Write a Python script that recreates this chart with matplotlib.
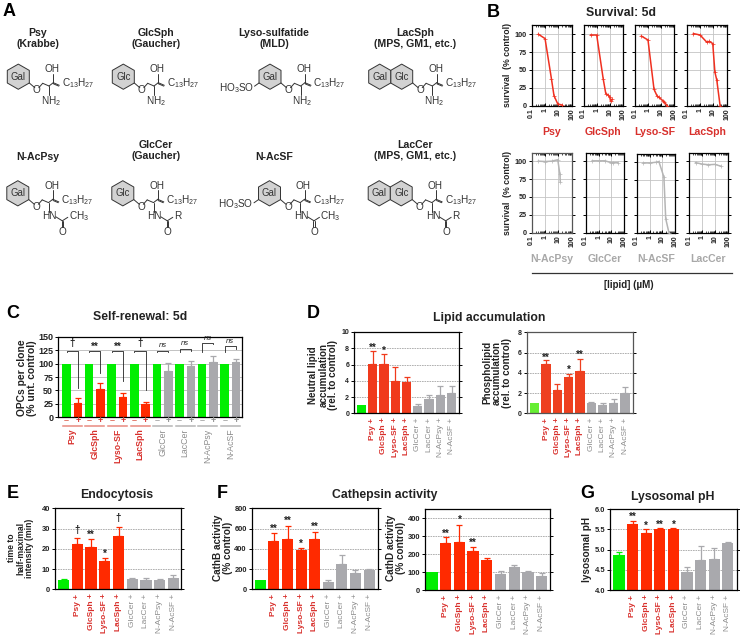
import matplotlib
matplotlib.use('Agg')
import matplotlib.pyplot as plt
from matplotlib.patches import Polygon
from matplotlib.ticker import LogLocator, NullFormatter

plt.rcParams['font.family'] = ['Liberation Sans', 'DejaVu Sans']
plt.rcParams['mathtext.fontset'] = 'custom'
plt.rcParams['mathtext.rm'] = 'Liberation Sans'

W, H = 740, 640

# panel A
row1_names = ['Psy\n(Krabbe)', 'GlcSph\n(Gaucher)', 'Lyso-sulfatide\n(MLD)', 'LacSph\n(MPS, GM1, etc.)']
row2_names = ['N-AcPsy', 'GlcCer\n(Gaucher)', 'N-AcSF', 'LacCer\n(MPS, GM1, etc.)']
sugars = [['Gal'], ['Glc'], ['Gal'], ['Gal', 'Glc']]
sulfated = [False, False, True, False]
row2_acyl = ['CH3', 'R', 'CH3', 'R']

# panel B
psy_x = [0.32, 1, 3, 4.7, 9, 18]
psy_y = [100, 94, 38, 14, 2.5, 1]
glcsph_x = [0.34, 1, 3.2, 5, 7.5, 10, 11.6, 15]
glcsph_y = [99, 99, 37, 17, 15, 12, 6.5, 9]
lysosf_x = [0.31, 1, 2.9, 4.9, 6.5, 14, 17, 30]
lysosf_y = [97.5, 92, 23, 14, 12, 7, 5.5, 0]
lacsph_x = [0.32, 1, 3.2, 5, 9, 13, 18, 32]
lacsph_y = [101, 99, 89, 90, 87, 47, 36, 0]
nacpsy_x = [0.32, 1, 3.2, 9, 13, 14]
nacpsy_y = [100, 99.5, 100, 102, 82, 71]
glccer_x = [0.32, 1, 3.2, 9, 14, 30]
glccer_y = [100.5, 100.5, 100.5, 98, 98, 98]
nacsf_x = [0.32, 1, 3.2, 5.3, 13, 18, 32]
nacsf_y = [99, 99, 100, 101, 79, 20, 0]
laccer_x = [0.32, 1, 3.2, 10, 30]
laccer_y = [98, 96, 95, 95.5, 93]

# panel C
c_names = ['Psy', 'GlcSph', 'Lyso-SF', 'LacSph', 'GlcCer', 'LacCer', 'N-AcPsy', 'N-AcSF']
c_ctrl = [100] * 8
c_vals = [27, 53, 38, 25, 87, 95, 102, 103]
c_tops = [35, 63, 46, 28, 101, 104, 114, 109]
c_br_top = [123, 123, 123, 123, 123, 128, 139, 133]
c_br_left = [121, 121, 121, 121, 121, 121, 121, 121]
c_br_right = [54, 82, 67, 51, 121, 124, 136, 128]
c_marks = ['†', '**', '**', '†', 'ns', 'ns', 'ns', 'ns']
c_mark_y = [138, 131, 131, 138, 133, 138, 146, 141]

# bar panels, first bar is the control
bar_names = ['', 'Psy +', 'GlcSph +', 'Lyso-SF +', 'LacSph +', 'GlcCer +', 'LacCer +', 'N-AcPsy +', 'N-AcSF +']
neutral_vals = [1, 6.1, 6.05, 4.0, 3.8, 0.9, 1.8, 2.2, 2.45]
neutral_tops = [1, 7.7, 7.25, 5.7, 4.5, 1.1, 2.25, 3.4, 3.35]
neutral_marks = {1: ('**', 8.0), 2: ('*', 7.7)}
phospho_vals = [1, 4.9, 2.35, 3.55, 4.2, 1.05, 0.85, 1.05, 2.05]
phospho_tops = [1, 5.25, 2.9, 3.85, 5.4, 1.15, 1.0, 1.45, 2.55]
phospho_marks = {1: ('**', 5.5), 3: ('*', 4.3), 4: ('**', 5.75)}
endo_vals = [4.7, 22.5, 21, 13.8, 26.5, 5.2, 4.5, 4.4, 5.7]
endo_tops = [5.2, 25.5, 25, 15.5, 31, 5.7, 5.4, 4.9, 7]
endo_marks = {1: ('†', 29.3), 2: ('**', 27), 3: ('*', 17.3), 4: ('†', 35)}
cathb_vals = [95, 480, 500, 390, 500, 75, 245, 165, 190]
cathb_tops = [95, 555, 625, 410, 570, 90, 335, 195, 205]
cathb_marks = {1: ('**', 600), 2: ('**', 675), 3: ('*', 450), 4: ('**', 615)}
cathd_vals = [100, 263, 268, 220, 168, 90, 130, 100, 82]
cathd_tops = [100, 297, 365, 238, 180, 110, 138, 110, 95]
cathd_marks = {1: ('**', 315), 2: ('*', 390), 3: ('**', 265)}
ph_vals = [4.87, 5.62, 5.4, 5.5, 5.5, 4.45, 4.75, 4.76, 5.17]
ph_tops = [4.93, 5.7, 5.5, 5.53, 5.53, 4.57, 5.08, 5.05, 5.19]
ph_marks = {1: ('**', 5.8), 2: ('*', 5.58), 3: ('**', 5.62), 4: ('*', 5.62)}

RED = '#ff2a00'
TXTRED = '#d8302c'
GREEN = '#00ee00'
GRAY = '#a9a9ad'
TXTGRAY = '#8c8c8c'
INK = '#333333'

fig = plt.figure(figsize=(W / 100, H / 100), dpi=100)


def place(x0, y0, x1, y1):
    return fig.add_axes([x0 / W, 1 - y1 / H, (x1 - x0) / W, (y1 - y0) / H])


page = fig.add_axes([0, 0, 1, 1])
page.set_xlim(0, W)
page.set_ylim(H, 0)
page.axis('off')


def bond(x0, y0, x1, y1):
    page.plot([x0, x1], [y0, y1], color=INK, lw=0.7, solid_capstyle='round')


def chem(x, y, s, ha='center'):
    page.text(x, y, s, ha=ha, va='center', fontsize=7.2, color=INK)


def structure(cx, cy, names, sulf=False, acyl=None):
    hw, r = 11.0, 12.6
    for k, nm in enumerate(reversed(names)):
        hx = cx - k * 2 * hw
        pts = [(hx, cy - r), (hx + hw, cy - r / 2), (hx + hw, cy + r / 2),
               (hx, cy + r), (hx - hw, cy + r / 2), (hx - hw, cy - r / 2)]
        page.add_patch(Polygon(pts, fc='#d2d2d2', ec=INK, lw=0.7))
        page.text(hx, cy, nm, ha='center', va='center', fontsize=6.9, color=INK)
    bond(cx + hw, cy + r / 2, cx + 16.5, cy + 11)
    chem(cx + 18.4, cy + 13.3, 'O')
    bond(cx + 20.5, cy + 11, cx + 24.4, cy + 6.6)
    bond(cx + 24.4, cy + 6.6, cx + 30.7, cy + 9.3)
    bond(cx + 30.7, cy + 9.3, cx + 35, cy + 6)
    bond(cx + 35, cy + 6, cx + 41, cy + 8.6)
    bond(cx + 35.3, cy + 7.2, cx + 40.5, cy + 9.4)
    chem(cx + 43.4, cy + 6.8, r'$\mathrm{C_{13}H_{27}}$', ha='left')
    bond(cx + 35, cy + 6, cx + 35, cy - 3)
    chem(cx + 34, cy - 7.4, 'OH')
    bond(cx + 30.7, cy + 9.3, cx + 30.7, cy + 18.5)
    if acyl is None:
        chem(cx + 32.4, cy + 24, r'$\mathrm{NH_2}$')
    else:
        chem(cx + 32, cy + 23, 'HN')
        bond(cx + 38, cy + 23.5, cx + 44.5, cy + 27.5)
        bond(cx + 44.5, cy + 27.5, cx + 50, cy + 24)
        bond(cx + 43.8, cy + 27.5, cx + 43.8, cy + 34)
        bond(cx + 45.2, cy + 27.5, cx + 45.2, cy + 34)
        chem(cx + 44.7, cy + 38.7, 'O')
        chem(cx + 51, cy + 23, r'$\mathrm{CH_3}$' if acyl == 'CH3' else 'R', ha='left')
    if sulf:
        bond(cx - hw, cy + r / 2, cx - 15.5, cy + 9.5)
        chem(cx - 16, cy + 11, r'$\mathrm{HO_3SO}$', ha='right')


# panel A
row_centers = [18.3, 123.3, 270, 401.7]
title_x = [38, 156, 274, 415]
for i in range(4):
    page.text(title_x[i], 38.5, row1_names[i], ha='center', va='center', fontsize=7.6,
              fontweight='bold', color='#222222', linespacing=1.1)
    structure(row_centers[i], 76.7, sugars[i], sulfated[i])
    if '\n' in row2_names[i]:
        page.text(title_x[i], 150.5, row2_names[i], ha='center', va='center', fontsize=7.6,
                  fontweight='bold', color='#222222', linespacing=1.1)
    else:
        page.text(title_x[i], 157, row2_names[i], ha='center', va='center', fontsize=7.6,
                  fontweight='bold', color='#222222')
    structure(row_centers[i] - 0.5, 193.3, sugars[i], sulfated[i], row2_acyl[i])


def survival(box, xs, ys, color, label, label_color, ylim_top=113, show_y=False, frame='black'):
    ax = place(*box)
    ax.plot(xs, ys, color=color, lw=1.1, marker='+', ms=2.5, mew=0.5, zorder=3)
    ax.set_xscale('log')
    ax.set_xlim(0.1, 100)
    ax.set_ylim(0, ylim_top)
    ax.set_yticks([0, 25, 50, 75, 100])
    ax.set_xticks([0.1, 1, 10, 100])
    ax.set_xticklabels(['0.1', '1', '10', '100'], rotation=90, fontsize=5, fontweight='bold', color='#222222')
    ax.xaxis.set_minor_locator(LogLocator(base=10, subs=range(2, 10), numticks=10))
    ax.xaxis.set_minor_formatter(NullFormatter())
    ax.tick_params(axis='x', which='major', top=True, direction='in', length=2.5, width=0.7, pad=2)
    ax.tick_params(axis='x', which='minor', top=True, direction='in', length=1.3, width=0.5)
    ax.tick_params(axis='y', left=True, right=True, direction='out', length=2, width=0.7, pad=1.5)
    ax.grid(True, which='major', color='#c4c4c4', lw=0.6, zorder=0)
    if show_y:
        ax.set_yticklabels(['0', '25', '50', '75', '100'], fontsize=5.2, fontweight='bold', color='#222222')
    else:
        ax.set_yticklabels([])
    for s in ax.spines.values():
        s.set_linewidth(0.9)
        s.set_color(frame)
    page.text((box[0] + box[2]) / 2, box[3] + 26.5, label, ha='center', va='center', fontsize=7.6,
              fontweight='bold', color=label_color)


# panel B
survival((531.7, 25, 571.7, 105.7), psy_x, psy_y, '#f03020', 'Psy', TXTRED, show_y=True)
survival((583.7, 25, 622.7, 105.7), glcsph_x, glcsph_y, '#f03020', 'GlcSph', TXTRED)
survival((635, 25, 674, 105.7), lysosf_x, lysosf_y, '#f03020', 'Lyso-SF', TXTRED)
survival((686.7, 25, 726.7, 105.7), lacsph_x, lacsph_y, '#f03020', 'LacSph', TXTRED)
survival((531.7, 153.3, 571.7, 232.7), nacpsy_x, nacpsy_y, '#b5b5b5', 'N-AcPsy', '#a8a8a8', ylim_top=111, show_y=True, frame='#555555')
survival((585.7, 153.3, 624.3, 232.7), glccer_x, glccer_y, '#b5b5b5', 'GlcCer', '#a8a8a8', ylim_top=111)
survival((636.7, 154.5, 675.3, 232.7), nacsf_x, nacsf_y, '#b5b5b5', 'N-AcSF', '#a8a8a8', ylim_top=111)
survival((689, 153.3, 727.7, 232.7), laccer_x, laccer_y, '#b5b5b5', 'LacCer', '#a8a8a8', ylim_top=111)
page.plot([532, 731.7], [272.7, 272.7], color='#333333', lw=0.9)
page.text(629, 285, '[lipid] (µM)', ha='center', va='center', fontsize=7, fontweight='bold', color='#222222')


def style_axes(ax, ticks, labels, fs, frame='black'):
    ax.set_yticks(ticks)
    ax.set_yticklabels(labels, fontsize=fs, fontweight='bold', color='#222222')
    ax.tick_params(axis='y', left=True, right=True, direction='out', length=2, width=0.7, pad=1.5)
    ax.yaxis.grid(True, color='#777777', lw=0.4, ls=(0, (3, 1.5)), zorder=0)
    ax.set_axisbelow(True)
    for s in ax.spines.values():
        s.set_linewidth(0.9)
        s.set_color(frame)


# panel C
axc = place(58, 336.7, 241.7, 417.3)
idx = list(range(8))
axc.bar([i - 0.25 for i in idx], c_ctrl, width=0.38, color=GREEN, zorder=2)
for i in idx:
    col = RED if i < 4 else GRAY
    axc.bar(i + 0.25, c_vals[i], width=0.38, color=col, zorder=2)
    axc.errorbar(i + 0.25, c_vals[i], yerr=[[0], [c_tops[i] - c_vals[i]]], color=col, lw=0.9, capsize=2.2,
                 capthick=0.9, zorder=2)
    axc.plot([i - 0.25, i - 0.25, i + 0.25, i + 0.25], [c_br_left[i], c_br_top[i], c_br_top[i], c_br_right[i]],
             color='#222222', lw=0.6, zorder=4)
    is_ns = c_marks[i] == 'ns'
    axc.text(i, c_mark_y[i], c_marks[i], ha='center', va='center', fontsize=5.5 if is_ns else 7,
             fontstyle='italic' if is_ns else 'normal', fontweight='normal' if is_ns else 'bold', color='#222222')
    text_col = TXTRED if i < 4 else TXTGRAY
    axc.plot([i - 0.42, i + 0.42], [-0.108, -0.108], transform=axc.get_xaxis_transform(), clip_on=False,
             color='#e88a80' if i < 4 else '#b5b5b5', lw=1.1)
    axc.text(i, -0.14, c_names[i], rotation=90, ha='center', va='top', transform=axc.get_xaxis_transform(),
             fontsize=6.3, fontweight='bold' if i < 4 else 'normal', color=text_col)
    axc.text(i - 0.25, -0.045, '–', ha='center', va='center', transform=axc.get_xaxis_transform(), fontsize=6.5,
             fontweight='bold', color='#e07060' if i < 4 else '#aaaaaa')
    axc.text(i + 0.25, -0.045, '+', ha='center', va='center', transform=axc.get_xaxis_transform(), fontsize=6.5,
             fontweight='bold', color=TXTRED if i < 4 else TXTGRAY)
axc.set_xlim(-0.63, 7.5)
axc.set_ylim(0, 150)
axc.set_xticks([])
style_axes(axc, [0, 25, 50, 75, 100, 125, 150], ['0', '25', '50', '75', '100', '125', '150'], 6.5)
axc.yaxis.grid(True, color='#aaaaaa', lw=0.5, ls='-')
axc.tick_params(axis='y', right=False)


def bar_panel(box, vals, tops, marks, ylim, ticks, labels, fs, period, first, red=RED, green=GREEN, frame='black'):
    ax = place(*box)
    for i in range(9):
        col = green if i == 0 else (red if i < 5 else GRAY)
        ax.bar(i, vals[i], width=0.82, bottom=0, color=col, zorder=2)
        if tops[i] > vals[i]:
            ax.errorbar(i, vals[i], yerr=[[0], [tops[i] - vals[i]]], color=col, lw=0.9, capsize=2.2, capthick=0.9,
                        zorder=2)
    for i, (m, y) in marks.items():
        ax.text(i, y, m, ha='center', va='center', fontsize=7, fontweight='bold', color='#222222')
    ax.set_xlim((box[0] - first) / period, (box[2] - first) / period)
    ax.set_ylim(*ylim)
    ax.set_xticks(range(1, 9))
    ax.set_xticklabels(bar_names[1:], rotation=90, fontsize=6)
    for i, t in enumerate(ax.get_xticklabels()):
        t.set_color(TXTRED if i < 4 else TXTGRAY)
        t.set_fontweight('bold' if i < 4 else 'normal')
    ax.tick_params(axis='x', length=0, pad=3)
    style_axes(ax, ticks, labels, fs, frame)
    return ax


# panels D to G
bar_panel((354, 332, 459, 413.3), neutral_vals, neutral_tops, neutral_marks, (0, 10), [0, 2, 4, 6, 8, 10],
          ['0', '2', '4', '6', '8', '10'], 5, 11.3, 361.3, red='#f03a1c')
bar_panel((526.7, 332.3, 632.7, 413.3), phospho_vals, phospho_tops, phospho_marks, (0, 8), [0, 2, 4, 6, 8],
          ['0', '2', '4', '6', '8'], 5, 11.3, 534.7, red='#ee4020', green='#66ee33', frame='#555555')
bar_panel((55, 508.3, 181, 589.3), endo_vals, endo_tops, endo_marks, (0, 40), [0, 10, 20, 30, 40],
          ['0', '10', '20', '30', '40'], 5.4, 13.7, 63.7)
bar_panel((251.7, 508.3, 378.3, 589.3), cathb_vals, cathb_tops, cathb_marks, (0, 800), [0, 200, 400, 600, 800],
          ['0', '200', '400', '600', '800'], 5.4, 13.6, 260.3)
bar_panel((425, 509, 550, 590.3), cathd_vals, cathd_tops, cathd_marks, (0, 452), [0, 100, 200, 300, 400],
          ['0', '100', '200', '300', '400'], 5.4, 13.7, 432)
bar_panel((610, 509, 736.7, 590.3), ph_vals, ph_tops, ph_marks, (4, 6), [4, 4.5, 5, 5.5, 6],
          ['4.0', '4.5', '5.0', '5.5', '6.0'], 5.4, 13.6, 619)

# panel letters
for s, x, y in [('A', 3, 16), ('B', 487, 17), ('C', 6, 318), ('D', 307, 318), ('E', 7, 498), ('F', 217, 498),
                ('G', 580, 498)]:
    page.text(x, y, s, ha='left', va='baseline', fontsize=13, fontweight='bold', color='black')

# titles
for s, x, y in [('Survival: 5d', 621, 13), ('Self-renewal: 5d', 140, 317), ('Lipid accumulation', 489, 317.7),
                ('Endocytosis', 116.7, 495), ('Cathepsin activity', 385, 495), ('Lysosomal pH', 673, 496.7)]:
    page.text(x, y, s, ha='center', va='center', fontsize=8.8, fontweight='bold', color='#222222')

# y labels
for s, x, y, fs in [('survival  (% control)', 508, 65, 6.3), ('survival  (% control)', 508, 193, 6.3),
                    ('OPCs per clone\n(% unt. control)', 27, 378, 7.4),
                    ('Neutral lipid\naccumulation\n(rel. to control)', 323.5, 375, 7.1),
                    ('Phospholipid\naccumulation\n(rel. to control)', 497, 372.7, 7.1),
                    ('time to\nhalf-maximal\nintensity (min)', 20.7, 548, 6.2),
                    ('CathB activity\n(% control)', 223, 548, 7.2), ('CathD activity\n(% control)', 395.5, 548, 7.2),
                    ('lysosomal pH', 586.7, 549, 7.2)]:
    page.text(x, y, s, rotation=90, ha='center', va='center', fontsize=fs, fontweight='bold', color='#222222',
              linespacing=1.0, multialignment='center')

fig.savefig('out.png', dpi=100)
